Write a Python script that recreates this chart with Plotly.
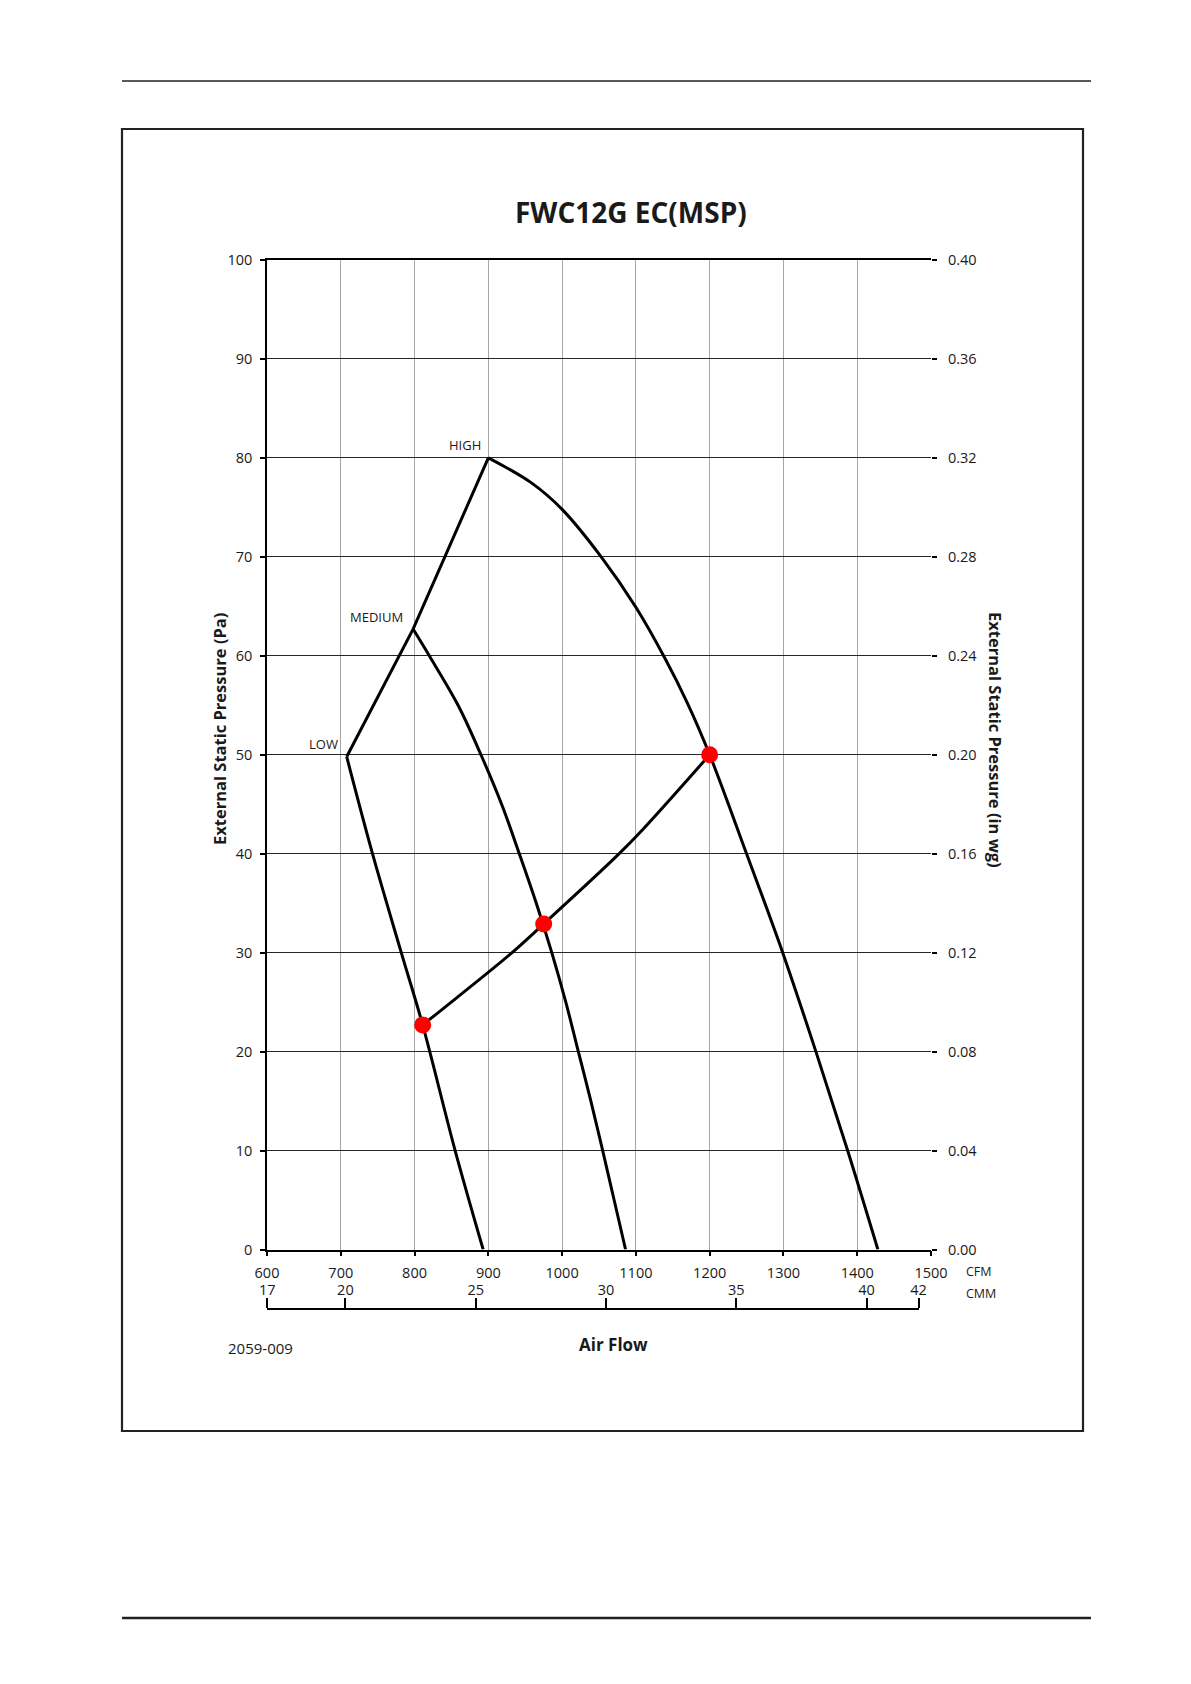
import plotly.graph_objects as go

# ---------------- data ----------------
CFM_PER_CMM = 35.3147

high_cfm = [900, 958, 1000, 1053, 1100, 1139, 1170, 1200, 1250, 1299, 1344, 1387, 1428]
high_pa = [80, 77.5, 74.8, 70.0, 64.9, 59.8, 55.2, 50, 40, 30, 20, 10, 0]

medium_cfm = [798, 820, 859, 890, 918, 942, 965, 986, 1005, 1022, 1039, 1055, 1070.5, 1086]
medium_pa = [62.7, 60, 55, 50, 45, 40, 35, 30, 25, 20, 15, 10, 5, 0]

low_cfm = [708, 743, 782, 811, 855, 893]
low_pa = [49.8, 40, 30, 22.7, 10, 0]

limit_cfm = [708, 798, 900]
limit_pa = [49.8, 62.7, 80]

system_cfm = [811, 838, 929, 975, 1076, 1110, 1200]
system_pa = [22.7, 24.3, 29.8, 32.9, 39.9, 42.5, 50]

op_cfm = [811, 975, 1200]
op_pa = [22.7, 32.9, 50]

speed_names = ["HIGH", "MEDIUM", "LOW"]
speed_label_cfm = [893, 787, 699]
speed_label_pa = [81.3, 63.9, 51.1]

cfm_ticks = [600, 700, 800, 900, 1000, 1100, 1200, 1300, 1400, 1500]
pa_ticks = [0, 10, 20, 30, 40, 50, 60, 70, 80, 90, 100]
inwg_ticks = [0.00, 0.04, 0.08, 0.12, 0.16, 0.20, 0.24, 0.28, 0.32, 0.36, 0.40]
cmm_ticks = [17, 20, 25, 30, 35, 40, 42]

# ---------------- layout geometry ----------------
W, H = 1191, 1684
ML, MR, MT, MB = 259, 268, 252, 300
PW = W - ML - MR
PH = H - MT - MB


def px(x):
    return (x - ML) / PW


def py(y):
    return (H - MB - y) / PH


main_bottom = py(1241.5)
cmm_line = py(1301.5)

FONT = "Open Sans"
TXT = "#1a1a1a"

fig = go.Figure()

curve_line = dict(color="black", width=3)
spline = dict(shape="spline", smoothing=1.0, **curve_line)
fig.add_trace(go.Scatter(x=high_cfm, y=high_pa, mode="lines", line=spline, hoverinfo="skip"))
fig.add_trace(go.Scatter(x=medium_cfm, y=medium_pa, mode="lines", line=spline, hoverinfo="skip"))
fig.add_trace(go.Scatter(x=low_cfm, y=low_pa, mode="lines", line=spline, hoverinfo="skip"))
fig.add_trace(go.Scatter(x=limit_cfm, y=limit_pa, mode="lines", line=dict(shape="linear", **curve_line), hoverinfo="skip"))
fig.add_trace(go.Scatter(x=system_cfm, y=system_pa, mode="lines", line=spline, hoverinfo="skip"))
fig.add_trace(go.Scatter(x=op_cfm, y=op_pa, mode="markers", marker=dict(color="#ff0000", size=17, line=dict(width=0)), hoverinfo="skip"))

# invisible helpers so the secondary axes get drawn
fig.add_trace(go.Scatter(x=[cfm_ticks[0]], y=[inwg_ticks[0]], yaxis="y2", mode="markers", marker=dict(opacity=0), hoverinfo="skip"))
fig.add_trace(go.Scatter(x=cmm_ticks, y=[0.5] * len(cmm_ticks), xaxis="x2", yaxis="y3", mode="markers", marker=dict(opacity=0), hoverinfo="skip"))

for name, xv, yv in zip(speed_names, speed_label_cfm, speed_label_pa):
    fig.add_annotation(x=xv, y=yv, xref="x", yref="y", text=name, showarrow=False,
                       xanchor="right", yanchor="middle", font=dict(family=FONT, size=13, color=TXT))

tickfont = dict(family=FONT, size=14.5, color=TXT)

fig.update_layout(
    width=W, height=H,
    margin=dict(l=ML, r=MR, t=MT, b=MB),
    paper_bgcolor="white", plot_bgcolor="white",
    showlegend=False,
    xaxis=dict(range=[600, 1500], tickvals=cfm_ticks, showgrid=True, gridcolor="#a6a6a6", gridwidth=1,
               showline=True, mirror=True, linecolor="black", linewidth=1.5, ticks="outside", ticklen=5,
               tickcolor="black", tickwidth=1.5, zeroline=False, tickfont=tickfont, anchor="y",
               ticklabelstandoff=4),
    yaxis=dict(range=[0, 100], tickvals=pa_ticks, domain=[main_bottom, 1], showgrid=True,
               gridcolor="#262626", gridwidth=1.4, showline=True, linecolor="black", linewidth=1.5,
               ticks="outside", ticklen=5, tickcolor="black", tickwidth=1.5, zeroline=False,
               tickfont=tickfont, ticklabelstandoff=5),
    yaxis2=dict(range=[0, 0.40], tickvals=inwg_ticks, ticktext=[f"{v:.2f}" for v in inwg_ticks],
                overlaying="y", side="right", anchor="x", showgrid=False, showline=False,
                ticks="outside", ticklen=5, tickcolor="black", tickwidth=1.5, zeroline=False,
                tickfont=tickfont, ticklabelstandoff=8),
    xaxis2=dict(range=[600 / CFM_PER_CMM, 42], domain=[0, (42 * CFM_PER_CMM - 600) / 900],
                tickvals=cmm_ticks, anchor="y3", side="top", showgrid=False, showline=True,
                linecolor="black", linewidth=1.5, ticks="outside", ticklen=10, tickcolor="black",
                tickwidth=1.5, zeroline=False, tickfont=tickfont, ticklabelstandoff=-3),
    yaxis3=dict(domain=[0, cmm_line], range=[0, 1], visible=False),
)

# titles and text
fig.add_annotation(x=px(623), y=py(204), xref="paper", yref="paper", text="<b>FWC12G EC(MSP)</b>",
                   showarrow=False, font=dict(family=FONT, size=28, color=TXT), xanchor="center", yanchor="middle")
fig.add_annotation(x=px(211), y=py(721), xref="paper", yref="paper", text="<b>External Static Pressure (Pa)</b>",
                   showarrow=False, textangle=-90, font=dict(family=FONT, size=16.5, color=TXT),
                   xanchor="center", yanchor="middle")
fig.add_annotation(x=px(988), y=py(732), xref="paper", yref="paper", text="<b>External Static Pressure (in wg)</b>",
                   showarrow=False, textangle=90, font=dict(family=FONT, size=16.5, color=TXT),
                   xanchor="center", yanchor="middle")
fig.add_annotation(x=px(605), y=py(1336), xref="paper", yref="paper", text="<b>Air Flow</b>",
                   showarrow=False, font=dict(family=FONT, size=17, color=TXT), xanchor="center", yanchor="middle")
fig.add_annotation(x=px(252), y=py(1340), xref="paper", yref="paper", text="2059-009",
                   showarrow=False, font=dict(family=FONT, size=15, color=TXT), xanchor="center", yanchor="middle")
fig.add_annotation(x=px(956), y=py(1263), xref="paper", yref="paper", text="CFM",
                   showarrow=False, font=dict(family=FONT, size=12.5, color=TXT), xanchor="left", yanchor="middle")
fig.add_annotation(x=px(956), y=py(1285), xref="paper", yref="paper", text="CMM",
                   showarrow=False, font=dict(family=FONT, size=12.5, color=TXT), xanchor="left", yanchor="middle")

# page decorations: header rule, chart frame, footer rule
fig.add_shape(type="line", xref="paper", yref="paper", x0=px(114), x1=px(1083), y0=py(73), y1=py(73),
              line=dict(color="#222222", width=1.5))
fig.add_shape(type="rect", xref="paper", yref="paper", x0=px(114), x1=px(1075), y0=py(1423), y1=py(121),
              line=dict(color="#222222", width=2.2), fillcolor="rgba(0,0,0,0)")
fig.add_shape(type="line", xref="paper", yref="paper", x0=px(114), x1=px(1083), y0=py(1610), y1=py(1610),
              line=dict(color="#222222", width=2.5))

fig.write_html("out.html")
